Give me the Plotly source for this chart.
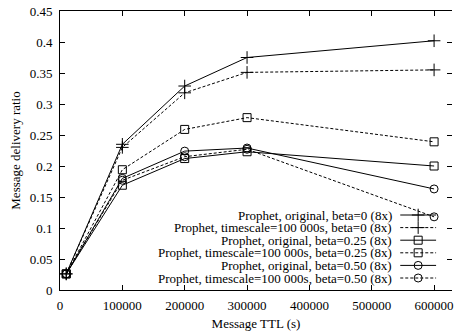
import plotly.graph_objects as go

ttl = [10000, 100000, 200000, 300000, 600000]
names = [
    "Prophet, original, beta=0 (8x)",
    "Prophet, timescale=100 000s, beta=0 (8x)",
    "Prophet, original, beta=0.25 (8x)",
    "Prophet, timescale=100 000s, beta=0.25 (8x)",
    "Prophet, original, beta=0.50 (8x)",
    "Prophet, timescale=100 000s, beta=0.50 (8x)",
]
orig_b0 = [0.026, 0.235, 0.329, 0.375, 0.402]
ts_b0 = [0.026, 0.230, 0.318, 0.351, 0.355]
orig_b25 = [0.026, 0.169, 0.212, 0.223, 0.200]
ts_b25 = [0.026, 0.194, 0.259, 0.278, 0.239]
orig_b50 = [0.026, 0.180, 0.224, 0.229, 0.163]
ts_b50 = [0.026, 0.177, 0.215, 0.227, 0.118]
series = [orig_b0, ts_b0, orig_b25, ts_b25, orig_b50, ts_b50]
symbols = ["cross-thin-open", "cross-thin-open", "square-open", "square-open",
           "circle-open", "circle-open"]
sizes = [9, 9, 8, 8, 8, 8]
dashes = ["solid", "3px,2px", "solid", "3px,2px", "solid", "3px,2px"]
xticks = [0, 100000, 200000, 300000, 400000, 500000, 600000]
yticks = [0, 0.05, 0.1, 0.15, 0.2, 0.25, 0.3, 0.35, 0.4, 0.45]

FONT = "Liberation Serif, Times New Roman, Times, serif"
W, H = 454, 332
L, R, T, B = 60, 0, 11, 42

fig = go.Figure()
for name, ys, sym, sz, dash in zip(names, series, symbols, sizes, dashes):
    fig.add_trace(go.Scatter(
        x=ttl, y=ys, mode="lines+markers", name=name, showlegend=False,
        line=dict(color="black", width=1, dash=dash),
        marker=dict(symbol=sym, size=sz, color="black",
                    line=dict(color="black", width=1)),
    ))

# custom gnuplot-style key (text right, sample on the right)
row0, dy = 215.0, 12.6
for i, (name, sym, sz, dash) in enumerate(zip(names, symbols, sizes, dashes)):
    yy = row0 + i * dy
    fig.add_trace(go.Scatter(
        x=[402, 438], y=[yy, yy], xaxis="x2", yaxis="y3",
        mode="lines", showlegend=False, hoverinfo="skip",
        line=dict(color="black", width=1, dash=dash),
    ))
    fig.add_trace(go.Scatter(
        x=[420], y=[yy], xaxis="x2", yaxis="y3",
        mode="markers", showlegend=False, hoverinfo="skip",
        marker=dict(symbol=sym, size=sz, color="black",
                    line=dict(color="black", width=1)),
    ))
    fig.add_annotation(x=396, y=yy, xref="x2", yref="y3", text=name,
                       showarrow=False, xanchor="right", yanchor="middle",
                       font=dict(family=FONT, size=13, color="black"))

# invisible trace for right mirror ticks
fig.add_trace(go.Scatter(x=[0], y=[0], yaxis="y2", mode="markers",
                         marker=dict(opacity=0), showlegend=False,
                         hoverinfo="skip"))

xr_max = 600000 * (W - L - R) / (436 - L)

fig.update_layout(
    width=W, height=H,
    margin=dict(l=L, r=R, t=T, b=B),
    paper_bgcolor="white", plot_bgcolor="white",
    font=dict(family=FONT, size=13, color="black"),
    showlegend=False,
    xaxis=dict(range=[0, xr_max], tickvals=xticks,
               ticktext=[str(v) for v in xticks],
               ticks="inside", ticklen=5, tickcolor="black",
               showline=True, linecolor="black", linewidth=1, mirror="ticks",
               showgrid=False, zeroline=False, ticklabeloverflow="allow",
               ticklabelstandoff=3,
               title=dict(text="Message TTL (s)", standoff=7,
                          font=dict(family=FONT, size=13)),
               tickfont=dict(family=FONT, size=13)),
    yaxis=dict(range=[0, 0.45], tickvals=yticks,
               ticktext=[f"{v:g}" for v in yticks],
               ticks="inside", ticklen=5, tickcolor="black",
               showline=True, linecolor="black", linewidth=1,
               showgrid=False, zeroline=False, ticklabelstandoff=4,
               title=dict(text="Message delivery ratio", standoff=6,
                          font=dict(family=FONT, size=13)),
               tickfont=dict(family=FONT, size=13)),
    yaxis2=dict(range=[0, 0.45], overlaying="y", side="right", anchor="x",
                tickvals=yticks, ticks="inside", ticklen=5, tickcolor="black",
                showticklabels=False, showline=False, showgrid=False,
                zeroline=False),
    xaxis2=dict(range=[L, W - R], overlaying="x", anchor="y3", visible=False,
                fixedrange=True),
    yaxis3=dict(range=[H - B, T], overlaying="y", anchor="x2", visible=False,
                fixedrange=True),
)

fig.write_html("out.html")
